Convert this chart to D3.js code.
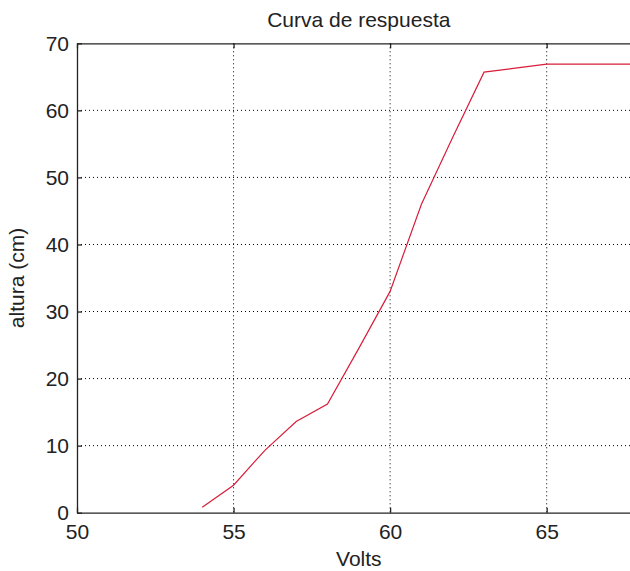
<!DOCTYPE html>
<html>
<head>
    <meta charset="utf-8">
    <title>Curva de respuesta</title>
    <script src="https://d3js.org/d3.v7.min.js"></script>
    <style>
        body { margin: 0; background: #fff; }
        svg { display: block; font-family: "Liberation Sans", Arial, sans-serif; }
        .tick text { font-size: 21px; fill: #222; }
        .grid line { stroke: #000; stroke-width: 1; stroke-dasharray: 1,3; }
    </style>
</head>
<body>
    <div id="chart"></div>
    <script>
        // Data
        const volts  = [54, 55, 56, 57, 58, 59, 60, 61, 62, 63, 64, 65, 66, 67, 68];
        const altura = [0.8, 4.1, 9.3, 13.6, 16.2, 24.5, 33, 46, 56, 65.7, 66.3, 66.9, 66.9, 66.9, 66.9];
        const xTicks = [50, 55, 60, 65];
        const yTicks = [0, 10, 20, 30, 40, 50, 60, 70];

        const width = 630, height = 571;
        const margin = { left: 77, top: 43.3 };
        const plotW = 563.6, plotH = 469.4;

        const svg = d3.select("#chart")
            .append("svg")
            .attr("width", width)
            .attr("height", height);

        const x = d3.scaleLinear().domain([50, 68]).range([0, plotW]);
        const y = d3.scaleLinear().domain([0, 70]).range([plotH, 0]);

        const g = svg.append("g")
            .attr("transform", "translate(" + margin.left + "," + margin.top + ")");

        // dotted grid
        const grid = g.append("g").attr("class", "grid");
        grid.selectAll(".gx")
            .data(xTicks.filter(d => d > 50))
            .enter().append("line")
            .attr("x1", d => x(d)).attr("x2", d => x(d))
            .attr("y1", 0).attr("y2", plotH);
        grid.selectAll(".gy")
            .data(yTicks.filter(d => d > 0 && d < 70))
            .enter().append("line")
            .attr("x1", 0).attr("x2", plotW)
            .attr("y1", d => y(d)).attr("y2", d => y(d));

        // the curve
        const line = d3.line()
            .x((d, i) => x(volts[i]))
            .y(d => y(d));
        g.append("path")
            .datum(altura)
            .attr("d", line)
            .attr("fill", "none")
            .attr("stroke", "#d81e3a")
            .attr("stroke-width", 1.2);

        // axes, ticks pointing inward
        const xAxis = g.append("g")
            .attr("transform", "translate(0," + plotH + ")")
            .call(d3.axisBottom(x).tickValues(xTicks).tickSize(-5).tickSizeOuter(0).tickPadding(11));
        const yAxis = g.append("g")
            .call(d3.axisLeft(y).tickValues(yTicks).tickSize(-5).tickSizeOuter(0).tickPadding(8));
        g.append("g")
            .call(d3.axisTop(x).tickValues(xTicks).tickSize(-5).tickSizeOuter(0).tickFormat(""));

        g.selectAll(".domain, .tick line")
            .attr("stroke", "#222")
            .attr("stroke-width", 1.3);

        // titles
        svg.append("text")
            .attr("x", margin.left + plotW / 2)
            .attr("y", 27)
            .attr("text-anchor", "middle")
            .attr("font-size", 21)
            .attr("fill", "#222")
            .text("Curva de respuesta");

        svg.append("text")
            .attr("x", margin.left + plotW / 2)
            .attr("y", 566)
            .attr("text-anchor", "middle")
            .attr("font-size", 21)
            .attr("fill", "#222")
            .text("Volts");

        svg.append("text")
            .attr("transform", "translate(24," + (margin.top + plotH / 2) + ") rotate(-90)")
            .attr("text-anchor", "middle")
            .attr("font-size", 21)
            .attr("fill", "#222")
            .text("altura (cm)");
    </script>
</body>
</html>
